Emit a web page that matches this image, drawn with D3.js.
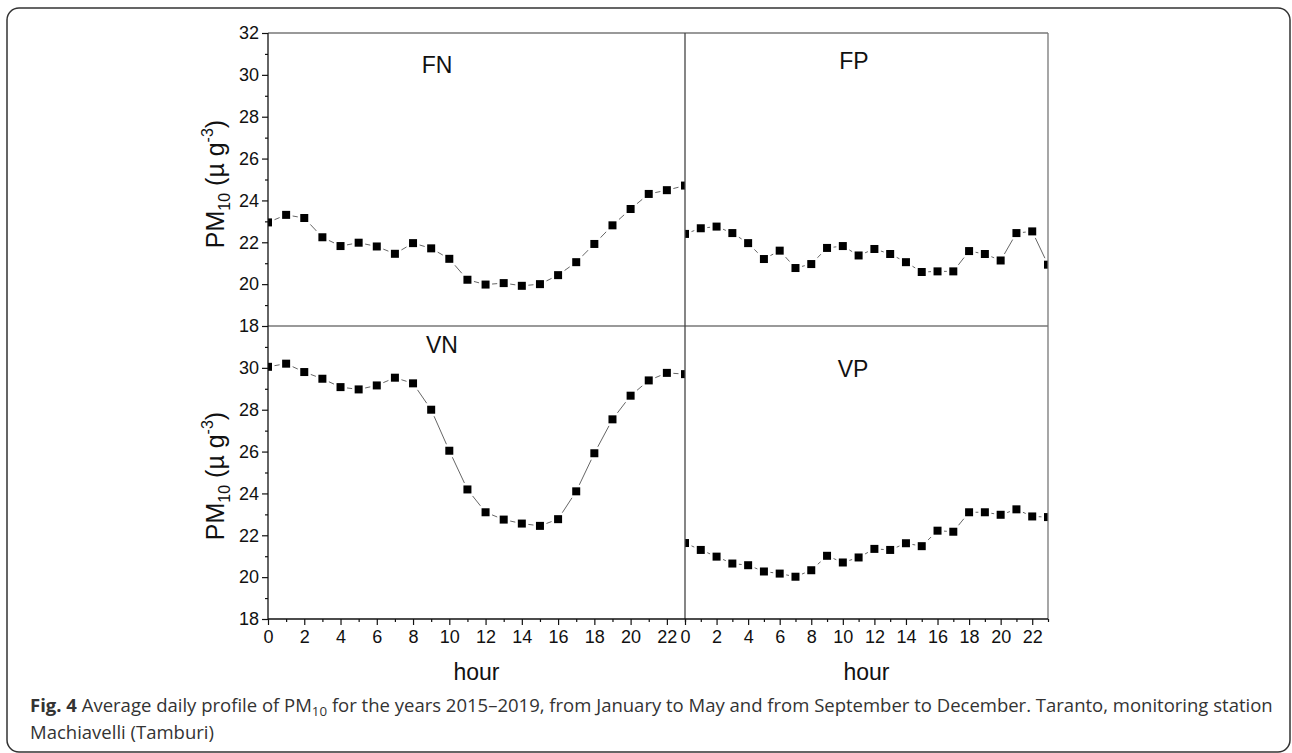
<!DOCTYPE html>
<html>
<head>
<meta charset="utf-8">
<script src="https://cdn.jsdelivr.net/npm/d3@7"></script>
<style>
  body { margin: 0; background: #fff; }
  svg { display: block; }
</style>
</head>
<body>
<script>
// hourly averages
const hours = [0, 1, 2, 3, 4, 5, 6, 7, 8, 9, 10, 11, 12, 13, 14, 15, 16, 17, 18, 19, 20, 21, 22, 23];
const fn = [22.95, 23.31, 23.16, 22.24, 21.82, 21.98, 21.8, 21.45, 21.96, 21.71, 21.21, 20.21,
            19.98, 20.05, 19.92, 20.0, 20.43, 21.05, 21.92, 22.81, 23.59, 24.31, 24.49, 24.71];
const fp = [22.4, 22.67, 22.75, 22.44, 21.96, 21.2, 21.6, 20.77, 20.96, 21.73, 21.82, 21.37,
            21.68, 21.44, 21.05, 20.58, 20.61, 20.61, 21.58, 21.44, 21.13, 22.44, 22.52, 20.93];
const vn = [30.05, 30.2, 29.8, 29.48, 29.08, 28.97, 29.16, 29.53, 29.26, 28.0, 26.04, 24.19,
            23.1, 22.75, 22.56, 22.45, 22.77, 24.1, 25.92, 27.54, 28.67, 29.4, 29.76, 29.7];
const vp = [21.63, 21.3, 20.98, 20.65, 20.57, 20.27, 20.17, 20.02, 20.33, 21.02, 20.7, 20.94,
            21.35, 21.3, 21.62, 21.48, 22.22, 22.17, 23.1, 23.1, 22.98, 23.24, 22.9, 22.87];
const yMajorTop = [18, 20, 22, 24, 26, 28, 30, 32];
const yMajorBottom = [18, 20, 22, 24, 26, 28, 30];
const yMinor = [19, 21, 23, 25, 27, 29, 31];
const xMajor = [0, 2, 4, 6, 8, 10, 12, 14, 16, 18, 20, 22];
const xMinor = [1, 3, 5, 7, 9, 11, 13, 15, 17, 19, 21, 23];

const W = 1292, H = 753;
const font = "'Liberation Sans', Arial, sans-serif";

const svg = d3.select('body').append('svg')
  .attr('width', W)
  .attr('height', H);

// outer frame
svg.append('rect')
  .attr('x', 7).attr('y', 8)
  .attr('width', 1283).attr('height', 744)
  .attr('rx', 12)
  .attr('fill', 'none')
  .attr('stroke', '#333')
  .attr('stroke-width', 1.5);

const xLeft = d3.scaleLinear().domain([0, 23]).range([268, 685]);
const xRight = d3.scaleLinear().domain([0, 23]).range([685, 1048]);
const yTop = d3.scaleLinear().domain([18, 32]).range([326, 33]);
const yBottom = d3.scaleLinear().domain([18, 32]).range([619, 326]);

const panels = [
  {name: 'FN', values: fn, x: xLeft, y: yTop, lx: 437, ly: 73},
  {name: 'FP', values: fp, x: xRight, y: yTop, lx: 854, ly: 69},
  {name: 'VN', values: vn, x: xLeft, y: yBottom, lx: 442, ly: 353},
  {name: 'VP', values: vp, x: xRight, y: yBottom, lx: 853, ly: 377}
];

panels.forEach((p, i) => {
  const [xa, xb] = p.x.range();
  const [yb, ya] = p.y.range();
  const clipId = 'clip' + i;
  svg.append('clipPath').attr('id', clipId)
    .append('rect')
    .attr('x', xa).attr('y', ya)
    .attr('width', xb - xa).attr('height', yb - ya);

  const g = svg.append('g').attr('clip-path', `url(#${clipId})`);

  const line = d3.line()
    .x((d, j) => p.x(hours[j]))
    .y(d => p.y(d));

  g.append('path')
    .datum(p.values)
    .attr('d', line)
    .attr('fill', 'none')
    .attr('stroke', '#666')
    .attr('stroke-width', 1);

  // white halo gives the broken-line look around the symbols
  g.selectAll('rect.halo')
    .data(p.values)
    .join('rect')
    .attr('class', 'halo')
    .attr('x', (d, j) => p.x(hours[j]) - 6.5)
    .attr('y', d => p.y(d) - 6.5)
    .attr('width', 13).attr('height', 13)
    .attr('fill', '#fff');

  g.selectAll('rect.mark')
    .data(p.values)
    .join('rect')
    .attr('class', 'mark')
    .attr('x', (d, j) => p.x(hours[j]) - 4)
    .attr('y', d => p.y(d) - 4)
    .attr('width', 8).attr('height', 8)
    .attr('fill', '#000');

  svg.append('text')
    .attr('x', p.lx).attr('y', p.ly)
    .attr('text-anchor', 'middle')
    .attr('font-family', font)
    .attr('font-size', 23)
    .attr('fill', '#111')
    .text(p.name);
});

// frame lines
const frame = svg.append('g');
frame.append('line').attr('x1', 268).attr('x2', 1048).attr('y1', 33).attr('y2', 33)
  .attr('stroke', '#777').attr('stroke-width', 1.3);
frame.append('line').attr('x1', 1048).attr('x2', 1048).attr('y1', 33).attr('y2', 619)
  .attr('stroke', '#777').attr('stroke-width', 1.3);
frame.append('line').attr('x1', 268).attr('x2', 1048).attr('y1', 326).attr('y2', 326)
  .attr('stroke', '#777').attr('stroke-width', 1.3);
frame.append('line').attr('x1', 685).attr('x2', 685).attr('y1', 33).attr('y2', 619)
  .attr('stroke', '#444').attr('stroke-width', 1.3);

// axes
function styleAxis(sel) {
  sel.select('.domain').remove();
  sel.selectAll('line').attr('stroke', '#111').attr('stroke-width', 1.2);
  sel.selectAll('text')
    .attr('font-family', font)
    .attr('font-size', 18)
    .attr('fill', '#111');
}

[[yTop, yMajorTop], [yBottom, yMajorBottom]].forEach(([y, ticks]) => {
  svg.append('g').attr('transform', 'translate(268,0)')
    .call(d3.axisLeft(y).tickValues(ticks).tickSize(6).tickPadding(3).tickFormat(d3.format('d')))
    .call(styleAxis);
  svg.append('g').attr('transform', 'translate(268,0)')
    .call(d3.axisLeft(y).tickValues(yMinor).tickSize(3).tickFormat(''))
    .call(styleAxis);
});

[xLeft, xRight].forEach(x => {
  svg.append('g').attr('transform', 'translate(0,619)')
    .call(d3.axisBottom(x).tickValues(xMajor).tickSize(6).tickPadding(5).tickFormat(d3.format('d')))
    .call(styleAxis);
  svg.append('g').attr('transform', 'translate(0,619)')
    .call(d3.axisBottom(x).tickValues(xMinor).tickSize(3).tickFormat(''))
    .call(styleAxis);
});

svg.append('line').attr('x1', 268).attr('x2', 268).attr('y1', 33).attr('y2', 619)
  .attr('stroke', '#111').attr('stroke-width', 1.3);
svg.append('line').attr('x1', 268).attr('x2', 1048).attr('y1', 619).attr('y2', 619)
  .attr('stroke', '#111').attr('stroke-width', 1.3);

// axis titles
[[yTop, 184], [yBottom, 476]].forEach(([y, cy]) => {
  const t = svg.append('text')
    .attr('transform', `translate(224,${cy}) rotate(-90)`)
    .attr('text-anchor', 'middle')
    .attr('font-family', font)
    .attr('font-size', 25)
    .attr('fill', '#111');
  t.append('tspan').text('PM');
  t.append('tspan').attr('dy', 6).attr('font-size', 16).text('10');
  t.append('tspan').attr('dy', -6).text(' (\u00b5 g');
  t.append('tspan').attr('dy', -11).attr('font-size', 16).text('-3');
  t.append('tspan').attr('dy', 11).text(')');
});

[xLeft, xRight].forEach(x => {
  const [a, b] = x.range();
  svg.append('text')
    .attr('x', (a + b) / 2).attr('y', 680)
    .attr('text-anchor', 'middle')
    .attr('font-family', font)
    .attr('font-size', 23)
    .attr('fill', '#111')
    .text('hour');
});

// caption
const capFont = "'Open Sans', 'Noto Sans', sans-serif";
const cap1 = svg.append('text')
  .attr('x', 30).attr('y', 712)
  .attr('font-family', capFont)
  .attr('font-size', 16)
  .attr('fill', '#333');
cap1.append('tspan').attr('font-weight', 'bold').text('Fig. 4');
cap1.append('tspan').text(' Average daily profile of PM');
cap1.append('tspan').attr('dy', 4).attr('font-size', 11.5).text('10');
cap1.append('tspan').attr('dy', -4)
  .text(' for the years 2015\u20132019, from January to May and from September to December. Taranto, monitoring station');

const cap2 = svg.append('text')
  .attr('x', 30).attr('y', 739)
  .attr('font-family', capFont)
  .attr('font-size', 16)
  .attr('fill', '#333')
  .text('Machiavelli (Tamburi)');

const capLen = cap1.node().getComputedTextLength();
const fs = 16 * 1243 / capLen;
cap1.attr('font-size', fs);
cap1.selectAll('tspan').filter(function() { return d3.select(this).text() === '10'; })
  .attr('font-size', fs * 0.72);
cap2.attr('font-size', fs);
</script>
</body>
</html>
